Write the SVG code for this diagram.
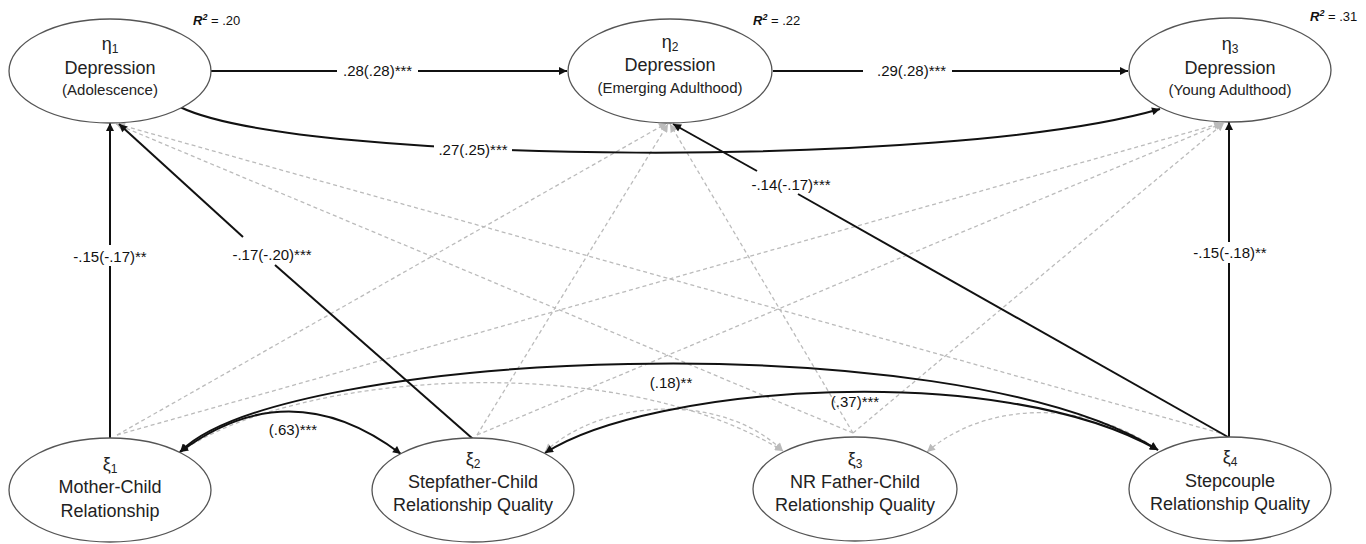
<svg xmlns="http://www.w3.org/2000/svg" width="1366" height="544" viewBox="0 0 1366 544">
<defs>
<style>
.node ellipse{fill:#fff;stroke:#555;stroke-width:1.3}
.t{font-family:"Liberation Sans",Arial,sans-serif;fill:#222;text-anchor:middle}
.main{font-size:18px}
.sub{font-size:15px}
.s{font-size:12px}
.lbl{font-family:"Liberation Sans",Arial,sans-serif;font-size:15px;fill:#111}
.mid{text-anchor:middle}
.r2{font-family:"Liberation Sans",Arial,sans-serif;font-size:13px;fill:#111}
.bi{font-weight:bold;font-style:italic}
.sol{fill:none;stroke:#111;stroke-width:2}
.dash{fill:none;stroke:#bbb;stroke-width:1.3;stroke-dasharray:4 3}
</style>
<marker id="ab" viewBox="0 0 10 10" refX="10" refY="5" markerWidth="9" markerHeight="8" markerUnits="userSpaceOnUse" orient="auto-start-reverse"><path d="M0,0L10,5L0,10z" fill="#111"/></marker>
<marker id="ag" viewBox="0 0 10 10" refX="10" refY="5" markerWidth="9" markerHeight="8" markerUnits="userSpaceOnUse" orient="auto-start-reverse"><path d="M0,0L10,5L0,10z" fill="#bbb"/></marker>
</defs>
<rect width="1366" height="544" fill="#fff"/>
<g id="connectors">
  <g id="ns-paths">
    <path class="dash" d="M853,433 L116,124" marker-end="url(#ag)"/>
    <path class="dash" d="M1220,433 L117,124" marker-end="url(#ag)"/>
    <path class="dash" d="M117,435 L667,123" marker-end="url(#ag)"/>
    <path class="dash" d="M477,435 L668,124" marker-end="url(#ag)"/>
    <path class="dash" d="M853,433 L670,124" marker-end="url(#ag)"/>
    <path class="dash" d="M117,435 L1222,123" marker-end="url(#ag)"/>
    <path class="dash" d="M477,435 L1223,123" marker-end="url(#ag)"/>
    <path class="dash" d="M853,433 L1224,123" marker-end="url(#ag)"/>
    <path class="dash" d="M180,452 C300,370 620,350 783,451" marker-start="url(#ag)" marker-end="url(#ag)"/>
    <path class="dash" d="M545,452 C600,400 720,390 783,451" marker-start="url(#ag)" marker-end="url(#ag)"/>
    <path class="dash" d="M927,452 C980,405 1080,395 1158,450" marker-start="url(#ag)" marker-end="url(#ag)"/>
  </g>
  <g id="sig-paths">
    <path class="sol" d="M211,71 H337"/>
    <path class="sol" d="M418,71 H567" marker-end="url(#ab)"/>
    <path class="sol" d="M773,71 H863"/>
    <path class="sol" d="M952,71 H1128" marker-end="url(#ab)"/>
    <path class="sol" d="M180,107 C300,165 950,170 1160,109" marker-end="url(#ab)"/>
    <path class="sol" d="M110,438 V266"/>
    <path class="sol" d="M110,245 V123" marker-end="url(#ab)"/>
    <path class="sol" d="M473,439 L275,265"/>
    <path class="sol" d="M243,237 L119,124" marker-end="url(#ab)"/>
    <path class="sol" d="M1228,437 L798,194"/>
    <path class="sol" d="M757,171 L673,124" marker-end="url(#ab)"/>
    <path class="sol" d="M1229,437 V263"/>
    <path class="sol" d="M1229,242 V122" marker-end="url(#ab)"/>
    <path class="sol" d="M180,452 Q290,370 401,454" marker-start="url(#ab)" marker-end="url(#ab)"/>
    <path class="sol" d="M180,452 C280,350 950,320 1158,450" marker-start="url(#ab)" marker-end="url(#ab)"/>
    <path class="sol" d="M545,453 C650,385 1000,360 1158,450" marker-start="url(#ab)" marker-end="url(#ab)"/>
  </g>
  <g id="labels">
    <text class="lbl" x="343" y="76">.28(.28)***</text>
    <text class="lbl" x="877" y="76">.29(.28)***</text>
    <rect x="434" y="140" width="78" height="20" fill="#fff"/>
    <text class="lbl mid" x="473" y="155">.27(.25)***</text>
    <text class="lbl mid" x="110" y="262">-.15(-.17)**</text>
    <text class="lbl mid" x="272" y="260">-.17(-.20)***</text>
    <text class="lbl mid" x="791" y="190">-.14(-.17)***</text>
    <text class="lbl mid" x="1230" y="258">-.15(-.18)**</text>
    <text class="lbl mid" x="293" y="435">(.63)***</text>
    <text class="lbl mid" x="671" y="388">(.18)**</text>
    <text class="lbl mid" x="855" y="407">(.37)***</text>
  </g>
</g>
<g id="eta1" class="node">
  <ellipse cx="110" cy="71" rx="101" ry="52"/>
  <text class="t main" x="110" y="50">η<tspan class="s" dy="3">1</tspan></text>
  <text class="t main" x="110" y="74">Depression</text>
  <text class="t sub" x="110" y="95">(Adolescence)</text>
  <text class="r2" x="193" y="25"><tspan class="bi">R</tspan><tspan class="bi" font-size="9" dy="-5">2</tspan><tspan dy="5"> = .20</tspan></text>
</g>
<g id="eta2" class="node">
  <ellipse cx="670" cy="71" rx="102" ry="52"/>
  <text class="t main" x="670" y="48">η<tspan class="s" dy="3">2</tspan></text>
  <text class="t main" x="670" y="71">Depression</text>
  <text class="t sub" x="670" y="93">(Emerging Adulthood)</text>
  <text class="r2" x="753" y="25"><tspan class="bi">R</tspan><tspan class="bi" font-size="9" dy="-5">2</tspan><tspan dy="5"> = .22</tspan></text>
</g>
<g id="eta3" class="node">
  <ellipse cx="1230" cy="70" rx="101" ry="52"/>
  <text class="t main" x="1230" y="50">η<tspan class="s" dy="3">3</tspan></text>
  <text class="t main" x="1230" y="74">Depression</text>
  <text class="t sub" x="1230" y="95">(Young Adulthood)</text>
  <text class="r2" x="1310" y="21"><tspan class="bi">R</tspan><tspan class="bi" font-size="9" dy="-5">2</tspan><tspan dy="5"> = .31</tspan></text>
</g>
<g id="xi1" class="node">
  <ellipse cx="110" cy="490" rx="101" ry="52"/>
  <text class="t main" x="110" y="470">ξ<tspan class="s" dy="3">1</tspan></text>
  <text class="t main" x="110" y="493">Mother-Child</text>
  <text class="t main" x="110" y="517">Relationship</text>
</g>
<g id="xi2" class="node">
  <ellipse cx="473" cy="490" rx="101" ry="52"/>
  <text class="t main" x="473" y="465">ξ<tspan class="s" dy="3">2</tspan></text>
  <text class="t main" x="473" y="488">Stepfather-Child</text>
  <text class="t main" x="473" y="511">Relationship Quality</text>
</g>
<g id="xi3" class="node">
  <ellipse cx="855" cy="489" rx="102" ry="52"/>
  <text class="t main" x="855" y="465">ξ<tspan class="s" dy="3">3</tspan></text>
  <text class="t main" x="855" y="488">NR Father-Child</text>
  <text class="t main" x="855" y="511">Relationship Quality</text>
</g>
<g id="xi4" class="node">
  <ellipse cx="1230" cy="489" rx="101" ry="52"/>
  <text class="t main" x="1230" y="463">ξ<tspan class="s" dy="3">4</tspan></text>
  <text class="t main" x="1230" y="487">Stepcouple</text>
  <text class="t main" x="1230" y="510">Relationship Quality</text>
</g>
</svg>
